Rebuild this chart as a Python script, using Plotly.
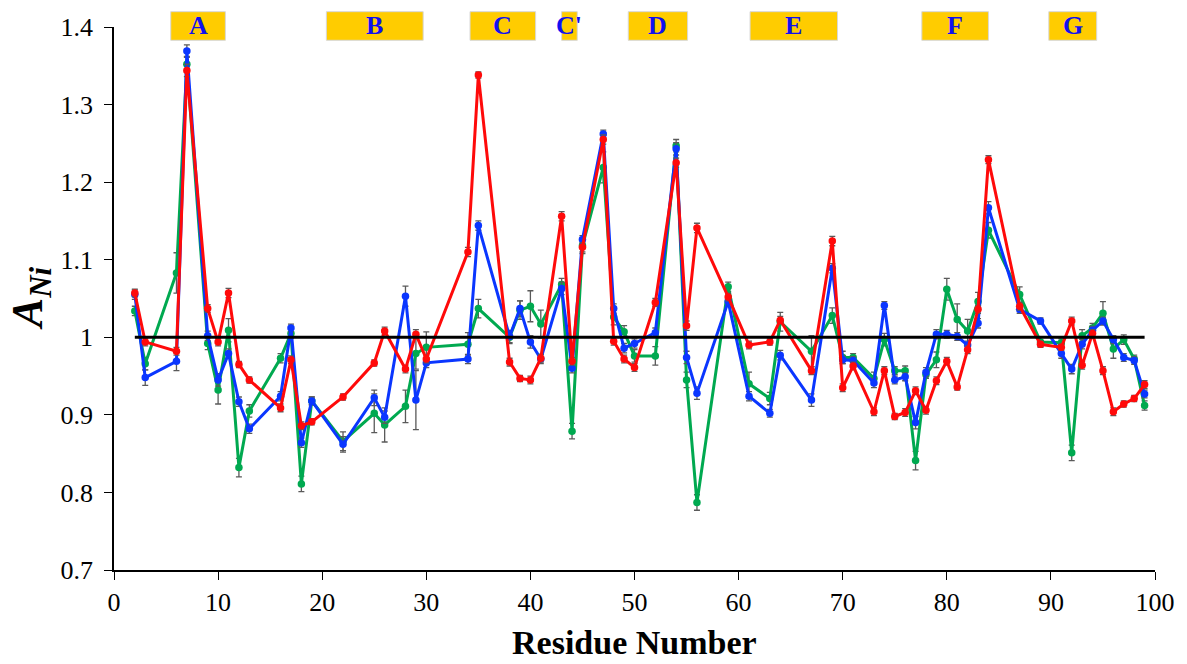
import plotly.graph_objects as go

# Residues with measured A_Ni values (same residues in all three data sets)
residues = [2, 3, 6, 7, 9, 10, 11, 12, 13, 16,
            17, 18, 19, 22, 25, 26, 28, 29, 30, 34,
            35, 38, 39, 40, 41, 43, 44, 45, 47, 48,
            49, 50, 52, 54, 55, 56, 59, 61, 63, 64,
            67, 69, 70, 71, 73, 74, 75, 76, 77, 78,
            79, 80, 81, 82, 83, 84, 87, 89, 91, 92,
            93, 94, 95, 96, 97, 98, 99]

red_vals = [1.057, 0.994, 0.982, 1.344, 1.037, 0.994, 1.057, 0.965, 0.945, 0.909,
            0.971, 0.886, 0.891, 0.923, 0.967, 1.008, 0.959, 1.004, 0.972, 1.110,
            1.338, 0.968, 0.947, 0.945, 0.973, 1.156, 0.969, 1.116, 1.255, 0.995,
            0.972, 0.961, 1.045, 1.225, 1.015, 1.141, 1.052, 0.990, 0.994, 1.022,
            0.957, 1.124, 0.935, 0.963, 0.904, 0.957, 0.898, 0.903, 0.931, 0.906,
            0.944, 0.969, 0.936, 0.984, 1.036, 1.229, 1.040, 0.991, 0.987, 1.021,
            0.964, 1.005, 0.957, 0.904, 0.914, 0.921, 0.939]
red_err = [0.005, 0.005, 0.005, 0.008, 0.005, 0.005, 0.006, 0.004, 0.004, 0.005,
           0.005, 0.005, 0.004, 0.004, 0.004, 0.005, 0.005, 0.006, 0.005, 0.006,
           0.004, 0.005, 0.004, 0.005, 0.005, 0.006, 0.005, 0.006, 0.006, 0.005,
           0.005, 0.005, 0.005, 0.006, 0.006, 0.006, 0.005, 0.005, 0.004, 0.005,
           0.005, 0.006, 0.005, 0.005, 0.005, 0.005, 0.004, 0.005, 0.005, 0.005,
           0.005, 0.005, 0.004, 0.005, 0.005, 0.005, 0.005, 0.004, 0.004, 0.005,
           0.005, 0.005, 0.005, 0.005, 0.004, 0.004, 0.005]

green_vals = [1.034, 0.966, 1.083, 1.352, 0.992, 0.932, 1.009, 0.832, 0.905, 0.973,
              1.005, 0.811, 0.918, 0.866, 0.902, 0.887, 0.911, 0.979, 0.987, 0.991,
              1.037, 1.000, 1.035, 1.040, 1.017, 1.068, 0.879, 1.118, 1.219, 1.026,
              1.007, 0.976, 0.976, 1.247, 0.945, 0.787, 1.065, 0.940, 0.921, 1.020,
              0.982, 1.028, 0.974, 0.974, 0.947, 0.997, 0.957, 0.957, 0.841, 0.952,
              0.971, 1.062, 1.023, 1.008, 1.046, 1.138, 1.055, 0.994, 0.993, 0.851,
              1.002, 1.012, 1.031, 0.985, 0.997, 0.972, 0.912]
green_err = [0.006, 0.008, 0.026, 0.010, 0.008, 0.018, 0.015, 0.012, 0.008, 0.006,
             0.006, 0.010, 0.005, 0.012, 0.025, 0.022, 0.021, 0.020, 0.020, 0.015,
             0.012, 0.008, 0.012, 0.020, 0.018, 0.008, 0.010, 0.010, 0.020, 0.010,
             0.008, 0.008, 0.012, 0.008, 0.010, 0.010, 0.006, 0.015, 0.008, 0.012,
             0.020, 0.010, 0.008, 0.005, 0.008, 0.008, 0.005, 0.006, 0.012, 0.005,
             0.010, 0.014, 0.020, 0.015, 0.012, 0.010, 0.010, 0.006, 0.005, 0.010,
             0.008, 0.006, 0.015, 0.012, 0.006, 0.005, 0.006]

blue_vals = [1.055, 0.948, 0.969, 1.369, 1.002, 0.945, 0.979, 0.917, 0.882, 0.924,
             1.012, 0.864, 0.918, 0.862, 0.922, 0.897, 1.053, 0.919, 0.967, 0.972,
             1.144, 1.001, 1.037, 0.994, 0.972, 1.063, 0.960, 1.126, 1.262, 1.037,
             0.986, 0.992, 1.006, 1.243, 0.974, 0.928, 1.046, 0.924, 0.902, 0.977,
             0.919, 1.089, 0.971, 0.970, 0.941, 1.041, 0.945, 0.949, 0.890, 0.955,
             1.004, 1.004, 1.001, 0.990, 1.018, 1.167, 1.036, 1.021, 0.979, 0.959,
             0.991, 1.009, 1.021, 0.997, 0.974, 0.970, 0.927]
blue_err = [0.006, 0.010, 0.012, 0.008, 0.006, 0.008, 0.006, 0.006, 0.006, 0.006,
            0.005, 0.006, 0.005, 0.010, 0.010, 0.008, 0.013, 0.038, 0.006, 0.006,
            0.006, 0.008, 0.010, 0.008, 0.006, 0.008, 0.006, 0.005, 0.005, 0.006,
            0.006, 0.006, 0.006, 0.008, 0.008, 0.008, 0.006, 0.006, 0.005, 0.006,
            0.008, 0.006, 0.005, 0.005, 0.006, 0.005, 0.005, 0.005, 0.008, 0.006,
            0.006, 0.005, 0.005, 0.005, 0.006, 0.008, 0.005, 0.004, 0.006, 0.006,
            0.006, 0.005, 0.005, 0.005, 0.005, 0.005, 0.005]

# Reference level
ref_x = [2, 99]
ref_y = [1, 1]

# Secondary-structure strands (residue spans)
strand_labels = ["A", "B", "C", "C'", "D", "E", "F", "G"]
strand_start = [5.45, 20.4, 34.2, 43.0, 49.4, 61.1, 77.6, 89.8]
strand_end = [10.7, 29.7, 40.5, 44.5, 55.1, 69.5, 84.0, 94.4]

SERIF = "Liberation Serif, Times New Roman, serif"
ERR_COLOR = "#5a5a5a"

fig = go.Figure()


def add_series(vals, errs, color):
    fig.add_trace(go.Scatter(
        x=residues, y=vals, mode="lines+markers",
        line=dict(color=color, width=3),
        marker=dict(color=color, size=7.5),
        error_y=dict(type="data", array=errs, visible=True,
                     color=ERR_COLOR, thickness=1.3, width=3),
        showlegend=False,
    ))


add_series(green_vals, green_err, "#00A950")
add_series(blue_vals, blue_err, "#0A36FF")
add_series(red_vals, red_err, "#FF0A0A")

fig.add_trace(go.Scatter(x=ref_x, y=ref_y, mode="lines",
                         line=dict(color="black", width=3), showlegend=False))

# Strand boxes above the plot area
for lab, s, e in zip(strand_labels, strand_start, strand_end):
    fig.add_shape(type="rect", xref="x", yref="paper",
                  x0=s, x1=e, y0=0.9755, y1=1.0282,
                  fillcolor="#FFCC00", line=dict(color="#D8D8D8", width=1),
                  layer="above")
    fig.add_annotation(x=(s + e) / 2, xref="x", y=1.0035, yref="paper",
                       text=f"<b>{lab}</b>", showarrow=False,
                       font=dict(family=SERIF, size=26, color="#1010F0"),
                       xanchor="center", yanchor="middle")

fig.update_layout(
    width=1187, height=664,
    margin=dict(l=114, r=30, t=27, b=94),
    paper_bgcolor="white", plot_bgcolor="white",
    font=dict(family=SERIF, color="black"),
)

fig.update_xaxes(
    range=[0, 100], tick0=0, dtick=10,
    showgrid=False, zeroline=False,
    showline=True, linecolor="black", linewidth=1.5,
    ticks="outside", ticklen=8, tickwidth=1.3, tickcolor="black",
    tickfont=dict(family=SERIF, size=26, color="black"),
)
fig.update_yaxes(
    range=[0.7, 1.4], tick0=0.7, dtick=0.1,
    showgrid=False, zeroline=False,
    showline=True, linecolor="black", linewidth=1.5,
    ticks="outside", ticklen=8, tickwidth=1.3, tickcolor="black",
    ticklabelstandoff=6,
    tickfont=dict(family=SERIF, size=26, color="black"),
)

# Axis titles
fig.add_annotation(x=0.5, xref="paper", y=-0.134, yref="paper",
                   text="<b>Residue Number</b>", showarrow=False,
                   font=dict(family=SERIF, size=34, color="black"),
                   xanchor="center", yanchor="middle")
fig.add_annotation(x=-0.08, xref="paper", y=0.5, yref="paper",
                   text="<b><i>A</i></b><sub><b><i>Ni</i></b></sub>",
                   showarrow=False, textangle=-90,
                   font=dict(family=SERIF, size=44, color="black"),
                   xanchor="center", yanchor="middle")

fig.write_html("out.html")
